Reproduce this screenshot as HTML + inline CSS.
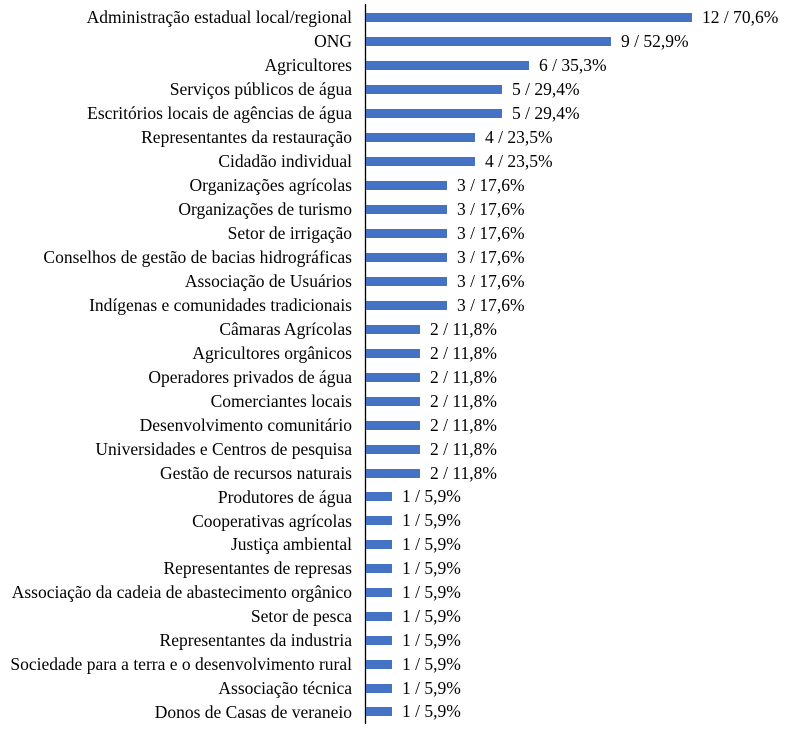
<!DOCTYPE html>
<html><head><meta charset="utf-8"><style>
body{margin:0;background:#fff;}
svg text{font-family:"Liberation Serif",serif;font-size:17.5px;fill:#000;}
</style></head><body>
<svg width="791" height="734" xmlns="http://www.w3.org/2000/svg">
<line x1="365.5" y1="4" x2="365.5" y2="724" stroke="#000" stroke-width="1.3"/>
<text x="352" y="23" text-anchor="end">Administração estadual local/regional</text><rect x="366" y="13" width="326" height="9" fill="#4472C4"/><text x="702" y="23">12 / 70,6%</text>
<text x="352" y="47" text-anchor="end">ONG</text><rect x="366" y="37" width="245" height="9" fill="#4472C4"/><text x="621" y="47">9 / 52,9%</text>
<text x="352" y="71" text-anchor="end">Agricultores</text><rect x="366" y="61" width="163" height="9" fill="#4472C4"/><text x="539" y="71">6 / 35,3%</text>
<text x="352" y="95" text-anchor="end">Serviços públicos de água</text><rect x="366" y="85" width="136" height="9" fill="#4472C4"/><text x="512" y="95">5 / 29,4%</text>
<text x="352" y="119" text-anchor="end">Escritórios locais de agências de água</text><rect x="366" y="109" width="136" height="9" fill="#4472C4"/><text x="512" y="119">5 / 29,4%</text>
<text x="352" y="143" text-anchor="end">Representantes da restauração</text><rect x="366" y="133" width="109" height="9" fill="#4472C4"/><text x="485" y="143">4 / 23,5%</text>
<text x="352" y="167" text-anchor="end">Cidadão individual</text><rect x="366" y="157" width="109" height="9" fill="#4472C4"/><text x="485" y="167">4 / 23,5%</text>
<text x="352" y="191" text-anchor="end">Organizações agrícolas</text><rect x="366" y="181" width="81" height="9" fill="#4472C4"/><text x="457" y="191">3 / 17,6%</text>
<text x="352" y="215" text-anchor="end">Organizações de turismo</text><rect x="366" y="205" width="81" height="9" fill="#4472C4"/><text x="457" y="215">3 / 17,6%</text>
<text x="352" y="239" text-anchor="end">Setor de irrigação</text><rect x="366" y="229" width="81" height="9" fill="#4472C4"/><text x="457" y="239">3 / 17,6%</text>
<text x="352" y="263" text-anchor="end">Conselhos de gestão de bacias hidrográficas</text><rect x="366" y="253" width="81" height="9" fill="#4472C4"/><text x="457" y="263">3 / 17,6%</text>
<text x="352" y="287" text-anchor="end">Associação de Usuários</text><rect x="366" y="277" width="81" height="9" fill="#4472C4"/><text x="457" y="287">3 / 17,6%</text>
<text x="352" y="311" text-anchor="end">Indígenas e comunidades tradicionais</text><rect x="366" y="301" width="81" height="9" fill="#4472C4"/><text x="457" y="311">3 / 17,6%</text>
<text x="352" y="335" text-anchor="end">Câmaras Agrícolas</text><rect x="366" y="325" width="54" height="9" fill="#4472C4"/><text x="430" y="335">2 / 11,8%</text>
<text x="352" y="359" text-anchor="end">Agricultores orgânicos</text><rect x="366" y="349" width="54" height="9" fill="#4472C4"/><text x="430" y="359">2 / 11,8%</text>
<text x="352" y="383" text-anchor="end">Operadores privados de água</text><rect x="366" y="373" width="54" height="9" fill="#4472C4"/><text x="430" y="383">2 / 11,8%</text>
<text x="352" y="407" text-anchor="end">Comerciantes locais</text><rect x="366" y="397" width="54" height="9" fill="#4472C4"/><text x="430" y="407">2 / 11,8%</text>
<text x="352" y="431" text-anchor="end">Desenvolvimento comunitário</text><rect x="366" y="421" width="54" height="9" fill="#4472C4"/><text x="430" y="431">2 / 11,8%</text>
<text x="352" y="455" text-anchor="end">Universidades e Centros de pesquisa</text><rect x="366" y="445" width="54" height="9" fill="#4472C4"/><text x="430" y="455">2 / 11,8%</text>
<text x="352" y="479" text-anchor="end">Gestão de recursos naturais</text><rect x="366" y="469" width="54" height="9" fill="#4472C4"/><text x="430" y="479">2 / 11,8%</text>
<text x="352" y="503" text-anchor="end">Produtores de água</text><rect x="366" y="492" width="26" height="9" fill="#4472C4"/><text x="402" y="502">1 / 5,9%</text>
<text x="352" y="527" text-anchor="end">Cooperativas agrícolas</text><rect x="366" y="516" width="26" height="9" fill="#4472C4"/><text x="402" y="526">1 / 5,9%</text>
<text x="352" y="550" text-anchor="end">Justiça ambiental</text><rect x="366" y="540" width="26" height="9" fill="#4472C4"/><text x="402" y="550">1 / 5,9%</text>
<text x="352" y="574" text-anchor="end">Representantes de represas</text><rect x="366" y="564" width="26" height="9" fill="#4472C4"/><text x="402" y="574">1 / 5,9%</text>
<text x="352" y="598" text-anchor="end">Associação da cadeia de abastecimento orgânico</text><rect x="366" y="588" width="26" height="9" fill="#4472C4"/><text x="402" y="598">1 / 5,9%</text>
<text x="352" y="622" text-anchor="end">Setor de pesca</text><rect x="366" y="612" width="26" height="9" fill="#4472C4"/><text x="402" y="622">1 / 5,9%</text>
<text x="352" y="646" text-anchor="end">Representantes da industria</text><rect x="366" y="636" width="26" height="9" fill="#4472C4"/><text x="402" y="646">1 / 5,9%</text>
<text x="352" y="670" text-anchor="end">Sociedade para a terra e o desenvolvimento rural</text><rect x="366" y="660" width="26" height="9" fill="#4472C4"/><text x="402" y="670">1 / 5,9%</text>
<text x="352" y="694" text-anchor="end">Associação técnica</text><rect x="366" y="684" width="26" height="9" fill="#4472C4"/><text x="402" y="694">1 / 5,9%</text>
<text x="352" y="718" text-anchor="end">Donos de Casas de veraneio</text><rect x="366" y="707" width="26" height="9" fill="#4472C4"/><text x="402" y="717">1 / 5,9%</text>
</svg>
</body></html>
